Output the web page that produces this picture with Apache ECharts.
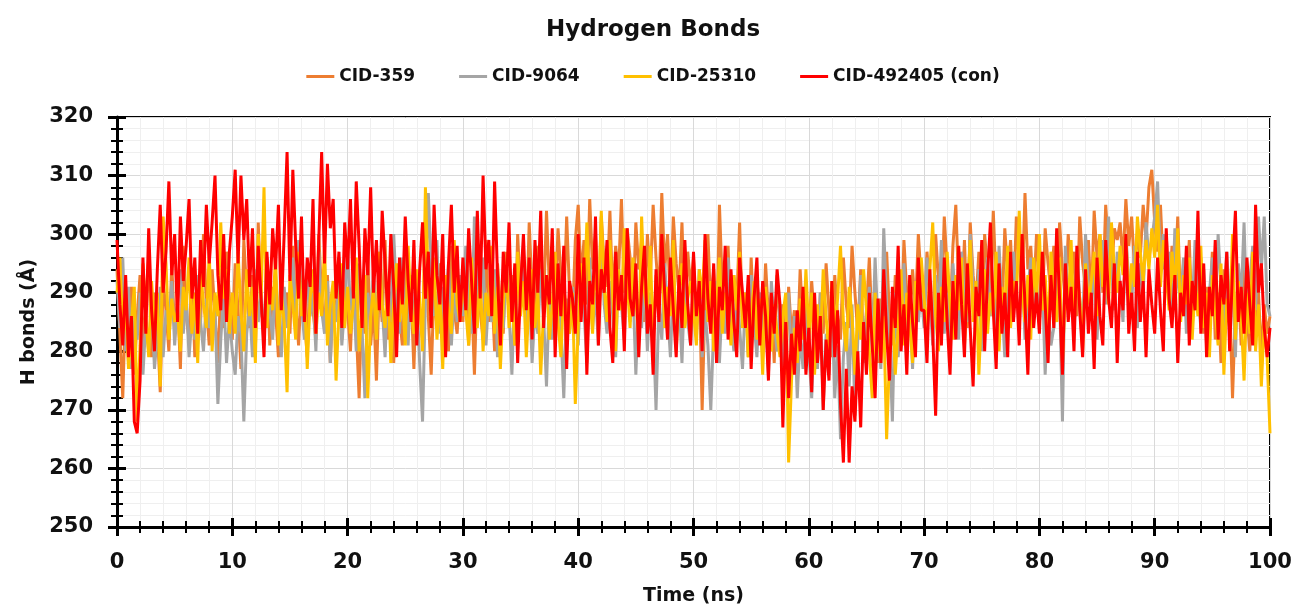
<!DOCTYPE html>
<html>
<head>
<meta charset="utf-8">
<script src="https://cdn.jsdelivr.net/npm/echarts@6/dist/echarts.min.js"></script>
<style>
html,body{margin:0;padding:0;background:#fff;}
#chart{width:1306px;height:611px;}
</style>
</head>
<body>
<div id="chart"></div>
<script>
// Sampling: one value every 0.25 ns from 0 to 100 ns
const timeStepNs = 0.25;
const seriesNames = ['CID-359', 'CID-9064', 'CID-25310', 'CID-492405 (con)'];
const seriesColors = ['#ED7D31', '#A5A5A5', '#FFC000', '#FF0000'];
const yTicks = [250, 260, 270, 280, 290, 300, 310, 320];
const xTicks = [0, 10, 20, 30, 40, 50, 60, 70, 80, 90, 100];

const cid359 = [
294,283,272,289,278,291,276,286,293,281, 288,296,279,290,284,273,292,287,280,295, 283,289,277,298,286,282,293,279,290,285, 300,288,281,294,286,278,291,284,297,289,
282,295,287,277,299,290,284,293,280,302, 288,283,296,281,291,287,279,294,285,290, 283,298,288,281,292,286,279,295,287,282, 300,289,284,293,278,290,285,296,282,289,
287,280,293,284,272,290,283,296,281,288, 275,292,285,299,282,290,278,294,286,281, 297,284,290,277,293,287,282,300,286,276, 291,284,295,282,289,280,298,287,283,292,
285,296,281,290,276,293,287,282,299,285, 291,280,295,288,283,297,286,293,281,300, 289,295,284,302,290,286,298,292,288,304, 291,296,287,301,293,288,303,290,285,299,
305,292,299,288,306,294,300,287,303,295, 291,304,289,298,293,306,290,301,296,287, 302,294,299,285,300,292,305,296,289,307, 294,300,288,303,295,290,302,286,297,291,
296,284,292,270,289,300,287,294,282,305, 291,286,298,283,293,288,302,285,290,279, 296,284,292,287,281,295,286,290,278,293, 285,288,276,291,283,287,280,294,284,289,
281,292,285,278,290,283,295,287,279,293, 286,282,296,288,284,298,290,283,294,280, 287,296,283,291,278,289,284,297,286,281, 293,288,282,299,290,285,294,287,300,292,
286,297,290,283,300,292,287,303,294,285, 298,305,291,287,299,284,302,293,288,297, 282,300,294,289,304,291,296,286,301,293, 299,288,303,295,290,307,294,298,289,300,
293,287,301,295,290,298,285,302,294,289, 300,292,297,286,303,295,291,299,288,304, 296,300,290,305,297,293,301,299,302,295, 306,298,303,294,300,296,305,299,308,311,
302,297,305,294,300,289,298,292,303,287, 295,290,299,284,293,288,296,283,291,286, 297,282,290,278,294,285,289,272,287,292, 281,295,286,280,293,284,290,279,288,283,
286
];

const cid9064 = [
292,284,296,280,291,277,286,282,290,276, 285,280,289,277,283,291,279,287,284,292, 281,288,294,283,290,279,286,282,293,285, 280,289,284,285,287,271,282,290,278,286,
280,276,286,283,268,283,288,279,294,285, 290,281,296,287,282,293,286,279,291,284, 289,296,283,299,288,282,294,286,290,280, 297,287,283,292,278,289,285,293,281,288,
298,287,291,280,295,284,272,290,286,294, 282,297,288,279,292,285,300,289,283,296, 287,281,293,284,290,278,268,289,307,295, 286,299,283,291,287,295,281,290,285,293,
286,298,290,283,303,292,287,296,281,290, 285,294,279,289,284,293,287,276,291,283, 288,297,285,292,278,287,283,294,286,274, 290,282,288,295,284,272,289,283,291,286,
281,293,287,278,296,284,290,281,300,288, 283,292,286,279,294,288,282,297,285,291, 276,289,284,293,280,290,285,270,288,282, 295,287,279,292,284,289,278,293,285,281,
290,283,294,279,287,281,270,284,292,278, 289,283,296,286,280,291,284,277,289,282, 293,285,279,290,283,287,276,292,285,280, 288,275,283,290,278,286,272,283,277,288,
280,272,285,277,290,270,283,276,289,272, 281,265,279,285,274,288,269,282,293,278, 286,291,280,296,284,277,301,288,282,268, 290,279,286,295,283,289,277,292,285,290,
284,296,289,281,293,286,299,283,290,278, 295,287,282,297,289,285,300,291,284,294, 280,289,296,286,292,283,298,288,279,293, 286,297,290,284,295,282,290,296,287,292,
285,293,276,288,281,284,295,290,268,298, 287,293,283,297,289,284,300,291,286,296, 282,293,299,288,303,294,287,297,291,285, 300,292,288,298,284,295,290,302,296,299,
303,309,295,300,290,297,286,301,292,288, 296,283,293,287,299,290,284,294,281,290, 296,286,300,291,284,297,288,293,279,295, 289,302,285,292,298,287,303,294,303,288,
286
];

const cid25310 = [
290,296,283,288,277,285,291,268,281,295, 286,279,292,284,290,274,303,295,282,289, 285,287,280,291,287,296,283,290,278,294, 288,284,297,280,290,286,302,289,294,283,
290,283,297,287,280,294,286,291,278,300, 289,308,284,292,287,296,281,290,285,273, 293,288,282,297,286,291,277,289,294,283, 290,286,298,281,288,292,275,287,295,284,
291,283,288,296,280,287,293,272,286,291, 282,297,288,284,292,278,289,295,285,290, 281,298,287,283,294,289,280,308,291,286, 296,282,290,277,293,287,283,299,288,285,
292,287,281,296,289,284,293,280,290,286, 298,283,291,277,288,295,284,290,281,297, 286,292,279,289,294,284,290,276,287,293, 282,288,297,285,279,291,286,283,290,271,
284,295,288,302,290,283,297,286,304,291, 285,299,289,280,294,287,301,292,284,296, 289,282,303,290,286,298,281,293,288,296, 284,291,286,299,280,290,295,284,289,292,
287,281,294,289,299,285,292,280,288,296, 283,290,286,281,293,287,297,284,290,279, 286,292,282,289,276,291,285,280,288,283, 279,286,290,261,275,284,278,289,282,294,
283,290,276,288,281,294,286,279,292,284, 289,298,285,280,291,286,276,288,282,294, 287,280,272,290,283,278,286,265,279,288, 276,284,294,281,290,285,278,292,287,296,
289,283,294,302,286,280,291,285,297,288, 282,293,287,296,281,290,299,285,292,276, 288,294,283,290,286,297,280,291,287,298, 284,292,288,304,290,285,293,282,296,289,
300,287,293,283,297,290,285,296,278,291, 287,299,284,293,289,280,295,288,292,297, 286,300,291,295,288,302,294,290,298,293, 300,288,295,291,303,297,292,299,294,301,
296,305,291,299,293,287,297,290,301,285, 293,288,296,282,291,286,298,284,290,279, 293,287,281,295,276,289,284,300,282,292, 286,275,290,283,297,280,288,274,285,279,
266
];

const cid492405 = [
299,288,281,293,279,286,268,266,275,296, 283,301,287,280,294,305,290,297,309,293, 300,285,303,292,298,306,289,296,283,299, 291,305,295,302,310,293,287,300,285,297,
303,311,295,310,299,306,291,301,284,298, 289,279,297,288,301,294,305,287,300,314, 292,311,298,289,303,285,296,291,306,283, 299,314,295,312,301,306,289,297,284,302,
294,306,289,309,298,284,301,293,308,290, 299,287,304,295,286,300,291,279,296,288, 303,292,285,299,281,294,302,289,297,284, 305,293,288,300,279,295,305,290,298,285,
296,287,301,292,283,304,289,310,294,299, 286,309,293,281,297,290,302,285,295,278, 291,300,287,296,282,299,290,304,284,293, 288,301,279,295,286,298,277,292,289,283,
300,285,296,276,292,288,303,281,294,290, 299,284,278,297,287,293,280,301,289,286, 295,279,291,298,283,288,276,294,285,300, 290,282,296,287,279,293,284,299,288,281,
297,286,292,280,300,289,283,295,278,291, 287,298,282,294,285,279,296,290,284,293, 277,289,296,281,292,286,275,290,283,294, 288,267,285,272,283,276,287,280,291,276,
284,273,290,278,286,270,282,275,292,279, 287,271,261,277,261,274,268,280,267,285, 276,290,281,272,289,278,294,283,275,291, 284,298,280,288,276,293,285,279,296,287,
287,278,294,283,269,290,281,296,285,276, 292,282,298,288,279,295,284,274,291,286, 299,280,293,302,287,277,295,283,290,279, 297,285,292,281,300,288,276,294,284,290,
283,297,288,278,293,284,301,289,276,295, 285,291,280,298,287,279,294,283,290,277, 296,286,281,299,289,284,295,278,292,287, 300,283,290,280,297,285,292,279,294,288,
283,296,287,280,301,289,284,293,278,290, 286,298,281,292,287,304,283,295,279,291, 286,299,282,293,288,297,280,294,304,285, 291,283,296,288,281,305,290,295,284,279,
284
];

const seriesValues = [cid359, cid9064, cid25310, cid492405];

const FONT = 'DejaVu Sans';

function toPairs(values) {
  return values.map((v, i) => [i * timeStepNs, v]);
}

const chart = echarts.init(document.getElementById('chart'), null, {renderer: 'canvas'});

const baseX = {
  type: 'value', min: xTicks[0], max: xTicks[xTicks.length - 1], interval: 10,
  position: 'bottom'
};
const baseY = {
  type: 'value', min: yTicks[0], max: yTicks[yTicks.length - 1], interval: 10,
  position: 'left'
};

const option = {
  animation: false,
  backgroundColor: '#ffffff',
  title: {
    text: 'Hydrogen Bonds',
    left: 'center',
    top: 14,
    textStyle: {fontFamily: FONT, fontWeight: 'bold', fontSize: 23, color: '#111'}
  },
  legend: {
    top: 63,
    left: 'center',
    icon: 'rect',
    itemWidth: 28,
    itemHeight: 3,
    itemGap: 44,
    textStyle: {fontFamily: FONT, fontWeight: 'bold', fontSize: 17, color: '#111'},
    data: seriesNames
  },
  grid: {
    left: 117, right: 36, top: 117, bottom: 80,
    show: true, borderColor: '#000', borderWidth: 2, backgroundColor: 'transparent',
    containLabel: false
  },
  xAxis: [
    Object.assign({}, baseX, {
      name: 'Time (ns)',
      nameLocation: 'middle',
      nameGap: 60,
      nameTextStyle: {fontFamily: FONT, fontWeight: 'bold', fontSize: 19, color: '#111'},
      axisLine: {show: true, lineStyle: {color: '#000', width: 3}},
      axisTick: {show: true, inside: false, length: 9, lineStyle: {color: '#000', width: 3}},
      minorTick: {show: true, splitNumber: 5, length: 6, lineStyle: {color: '#000', width: 2}},
      axisLabel: {fontFamily: FONT, fontWeight: 'bold', fontSize: 21, color: '#111', margin: 25},
      splitLine: {show: true, lineStyle: {color: '#d9d9d9', width: 1}},
      minorSplitLine: {show: true, lineStyle: {color: '#efefef', width: 1}}
    }),
    Object.assign({}, baseX, {
      axisLine: {show: false},
      axisTick: {show: true, inside: true, length: 9, lineStyle: {color: '#000', width: 3}},
      minorTick: {show: true, splitNumber: 5, length: 6, lineStyle: {color: '#000', width: 2}},
      axisLabel: {show: false},
      splitLine: {show: false}
    })
  ],
  yAxis: [
    Object.assign({}, baseY, {
      name: 'H bonds (Å)',
      nameLocation: 'middle',
      nameGap: 74,
      nameTextStyle: {fontFamily: FONT, fontWeight: 'bold', fontSize: 19, color: '#111'},
      axisLine: {show: true, lineStyle: {color: '#000', width: 3}},
      axisTick: {show: true, inside: false, length: 9, lineStyle: {color: '#000', width: 3}},
      minorTick: {show: true, splitNumber: 5, length: 6, lineStyle: {color: '#000', width: 2}},
      axisLabel: {fontFamily: FONT, fontWeight: 'bold', fontSize: 21, color: '#111', margin: 24},
      splitLine: {show: true, lineStyle: {color: '#d9d9d9', width: 1}},
      minorSplitLine: {show: true, lineStyle: {color: '#efefef', width: 1}}
    }),
    Object.assign({}, baseY, {
      axisLine: {show: false},
      axisTick: {show: true, inside: true, length: 9, lineStyle: {color: '#000', width: 3}},
      minorTick: {show: true, splitNumber: 5, length: 6, lineStyle: {color: '#000', width: 2}},
      axisLabel: {show: false},
      splitLine: {show: false}
    })
  ],
  series: seriesNames.map((name, k) => ({
    name: name,
    type: 'line',
    xAxisIndex: 0,
    yAxisIndex: 0,
    data: toPairs(seriesValues[k]),
    showSymbol: false,
    symbol: 'none',
    lineStyle: {color: seriesColors[k], width: 3},
    itemStyle: {color: seriesColors[k]},
    z: 2 + k
  }))
};

chart.setOption(option);
</script>
</body>
</html>
